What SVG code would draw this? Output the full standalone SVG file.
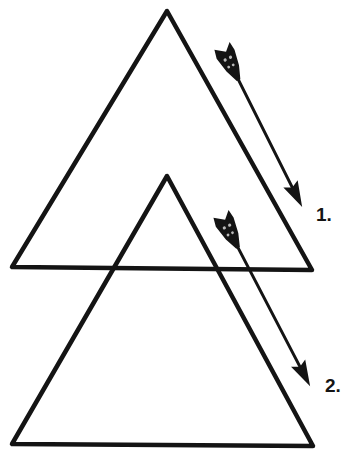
<svg xmlns="http://www.w3.org/2000/svg" width="352" height="452" viewBox="0 0 352 452">
<defs>
<style>
.tri{fill:none;stroke:#141414;stroke-width:4.5;stroke-linejoin:round;stroke-linecap:round}
.shaft{stroke:#141414;stroke-width:3;stroke-linecap:round}
.ink{fill:#141414}
.hole{fill:#ffffff;opacity:0.7}
.lbl{font-family:"Liberation Sans",Arial,sans-serif;font-weight:bold;font-size:19px;fill:#141414}
</style>
<g id="fletch">
<path class="ink" d="M-1,-9 L6,-1.5 L-1,8 L8,10 L24,7 L37,2 L37,-2 L24,-7 L8,-10 Z"/>
<circle class="hole" cx="13" cy="-3" r="1.6"/>
<circle class="hole" cx="13" cy="3" r="1.6"/>
<circle class="hole" cx="21" cy="-2" r="1.4"/>
<circle class="hole" cx="21" cy="3" r="1.4"/>
</g>
</defs>
<rect width="352" height="452" fill="#ffffff"/>
<g id="triangle1">
<polygon class="tri" points="167,11 12,267 312,270"/>
</g>
<g id="triangle2">
<polygon class="tri" points="167,176 12,444 313,446"/>
</g>
<g id="connectors">
<g id="arrow1" transform="translate(222,47) rotate(63.4)">
<use href="#fletch"/>
<line class="shaft" x1="34" y1="0" x2="160" y2="0"/>
<polygon class="ink" points="179,0 153,-8 157,0 153,8"/>
</g>
<g id="arrow2" transform="translate(221,215) rotate(62.5)">
<use href="#fletch"/>
<line class="shaft" x1="34" y1="0" x2="174" y2="0"/>
<polygon class="ink" points="193,0 167,-8 171,0 167,8"/>
</g>
</g>
<g id="label1"><text class="lbl" x="316" y="221">1.</text></g>
<g id="label2"><text class="lbl" x="325" y="392">2.</text></g>
</svg>
